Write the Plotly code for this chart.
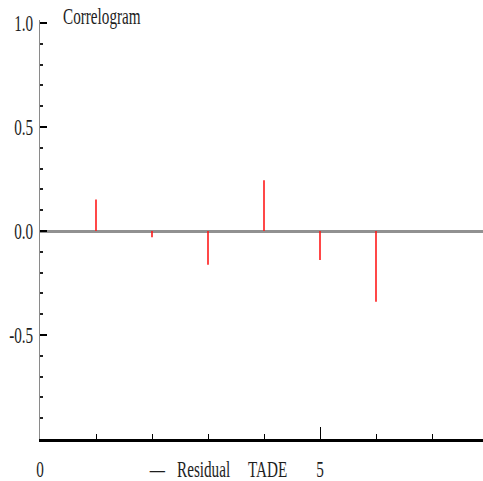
import plotly.graph_objects as go

# Residual autocorrelation by lag
lags = [1, 2, 3, 4, 5, 6]
acf = [0.152, -0.03, -0.162, 0.244, -0.139, -0.34]

y_tick_vals = [-0.5, 0.0, 0.5, 1.0]
y_tick_text = ["-0.5", "0.0", "0.5", "1.0"]
x_tick_vals = [0, 5]
x_tick_text = ["0", "5"]

title_text = "Correlogram"
legend_items = ["—", "Residual", "TADE"]

FONT = "Liberation Serif"
TEXT_COLOR = "#1e1e1e"
FONT_SIZE = 19

# vertical stems from zero to each autocorrelation value
stem_x, stem_y = [], []
for lag, r in zip(lags, acf):
    stem_x += [lag, lag, None]
    stem_y += [0, r, None]

fig = go.Figure()
fig.add_trace(go.Scatter(
    x=stem_x, y=stem_y, mode="lines",
    line=dict(color="#ff1a1a", width=1.6),
    hoverinfo="skip", showlegend=False,
))

PLOT_W, PLOT_H = 443, 419


def px_x(px):
    return (px - 40) / PLOT_W


def px_y(py):
    return (439 - py) / PLOT_H


annotations = [
    dict(text=title_text, xref="paper", yref="paper",
         x=px_x(61), y=px_y(17),
         xanchor="left", yanchor="middle", showarrow=False),
]
for label, left in zip(legend_items, [147, 175, 246]):
    annotations.append(dict(
        text=label, xref="paper", yref="paper",
        x=px_x(left), y=px_y(469),
        xanchor="left", yanchor="middle", showarrow=False))

fig.update_layout(
    width=483, height=481,
    margin=dict(l=40, r=0, t=20, b=42),
    paper_bgcolor="white", plot_bgcolor="white",
    font=dict(family=FONT, size=FONT_SIZE, color=TEXT_COLOR),
    showlegend=False,
    xaxis=dict(
        range=[0, PLOT_W / 56], showgrid=False, zeroline=False,
        showline=True, linecolor="black", linewidth=3,
        ticks="inside", ticklen=12, tickwidth=1.2, tickcolor="black",
        tickvals=x_tick_vals, ticktext=x_tick_text,
        ticklabelstandoff=11,
        minor=dict(dtick=1, tick0=0, ticks="inside", ticklen=5,
                   tickwidth=1.2, tickcolor="black"),
    ),
    yaxis=dict(
        range=[-1.0, 1.0 + 3 / 208], showgrid=False,
        zeroline=True, zerolinecolor="#919191", zerolinewidth=2.5,
        showline=True, linecolor="#8a8a8a", linewidth=1,
        ticks="inside", ticklen=7, tickwidth=2.2, tickcolor="black",
        tickvals=y_tick_vals, ticktext=y_tick_text,
        ticklabelstandoff=2,
        minor=dict(dtick=0.1, tick0=0, ticks="inside", ticklen=3,
                   tickwidth=1.6, tickcolor="#222"),
    ),
    annotations=annotations,
)

# Narrow, tall serif lettering: scale each text node about its anchor point
# (left edge for the left-anchored annotations, the text anchor otherwise).
narrow_text_js = """
var gd = document.getElementById('{plot_id}');
var SX = 0.8, SY = 1.2;
gd.querySelectorAll('svg text').forEach(function (t) {
    if (t.getAttribute('data-narrow')) { return; }
    var b = t.getBBox();
    if (!b.width) { return; }
    var anchor = t.getAttribute('text-anchor') || 'start';
    var ax;
    if (t.closest('.annotation')) {
        ax = b.x;
    } else if (anchor === 'end') {
        ax = b.x + b.width;
    } else if (anchor === 'middle') {
        ax = b.x + b.width / 2;
    } else {
        ax = b.x;
    }
    var ay = b.y + b.height / 2;
    var tr = t.getAttribute('transform') || '';
    t.setAttribute('transform', tr + ' translate(' + ax + ',' + ay + ') scale(' +
                   SX + ',' + SY + ') translate(' + (-ax) + ',' + (-ay) + ')');
    t.setAttribute('data-narrow', '1');
});
"""

fig.write_html("out.html", post_script=narrow_text_js)
